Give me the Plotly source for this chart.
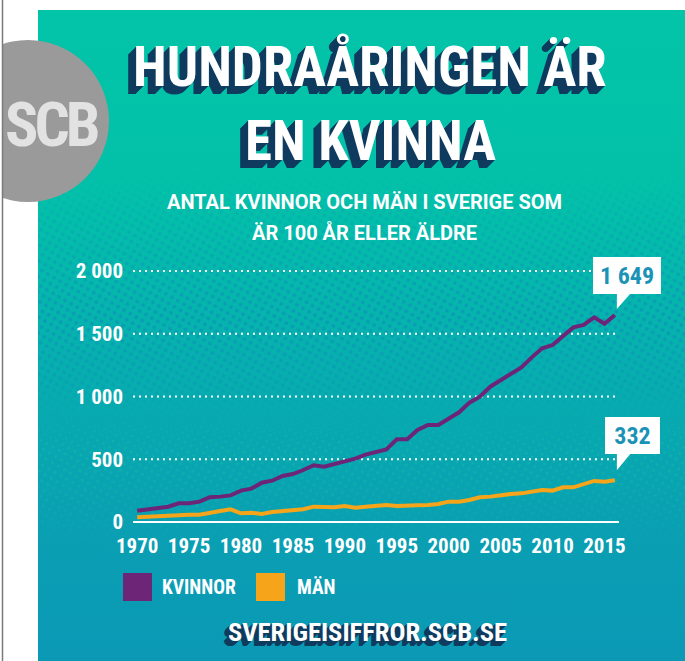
import base64
import plotly.graph_objects as go

# ---------------- data ----------------
years = list(range(1970, 2017))
kvinnor = [90, 101, 111, 122, 149, 149, 162, 197, 202, 212,
           250, 266, 313, 329, 367, 382, 414, 452, 441, 462,
           478, 505, 537, 555, 579, 659, 659, 733, 773, 773,
           826, 874, 951, 999, 1078, 1131, 1185, 1232, 1312, 1384,
           1410, 1482, 1551, 1570, 1631, 1580, 1649]
man = [37, 42, 42, 48, 58, 58, 58, 69, 88, 101,
       69, 74, 64, 80, 88, 93, 101, 122, 117, 117,
       127, 114, 122, 130, 135, 127, 133, 133, 135, 143,
       162, 162, 175, 197, 202, 215, 223, 228, 242, 255,
       250, 276, 276, 303, 327, 321, 332]
x_ticks = [1970, 1975, 1980, 1985, 1990, 1995, 2000, 2005, 2010, 2015]
y_ticks = [0, 500, 1000, 1500, 2000]
y_ticklabels = ["0", "500", "1 000", "1 500", "2 000"]
series_names = ["KVINNOR", "MÄN"]
callout_labels = ["1 649", "332"]

title_lines = ["HUNDRAÅRINGEN ÄR", "EN KVINNA"]
subtitle_lines = ["ANTAL KVINNOR OCH MÄN I SVERIGE SOM", "ÄR 100 ÅR ELLER ÄLDRE"]
url_text = "SVERIGEISIFFROR.SCB.SE"
logo_text = "SCB"

# ---------------- style ----------------
W, H = 685, 661
PURPLE = "#6d2577"
ORANGE = "#f6a41a"
NAVY = "#0f3b5f"
CALLOUT_TXT = "#1a93b6"
COND = "Roboto Condensed, Roboto, sans-serif"
ROBO = "Roboto, sans-serif"
X_MIN, X_GRID_END = 1969.6, 2016.4      # extent of grid / baseline
X_MAX = 2018.42                          # axis range end (room for callout pointers)


def px(x):
    return x / W


def py(y):
    return 1 - y / H


def extrude(n, color=NAVY):
    return ", ".join(f"-{i}px {i}px 0 {color}" for i in range(1, n + 1))


svg = f'''<svg xmlns="http://www.w3.org/2000/svg" width="{W}" height="{H}" viewBox="0 0 {W} {H}">
<defs>
<linearGradient id="g" x1="0" y1="10" x2="0" y2="661" gradientUnits="userSpaceOnUse">
<stop offset="0" stop-color="#02c4a8"/>
<stop offset="0.28" stop-color="#03c1a9"/>
<stop offset="0.5" stop-color="#06b2ae"/>
<stop offset="0.8" stop-color="#0a9fb3"/>
<stop offset="1" stop-color="#0b99b5"/>
</linearGradient>
<pattern id="d1" width="7" height="7" patternUnits="userSpaceOnUse" patternTransform="rotate(30)">
<circle cx="3.5" cy="3.5" r="2" fill="#0b98b6"/>
</pattern>
<linearGradient id="m1g" x1="0" y1="170" x2="0" y2="470" gradientUnits="userSpaceOnUse">
<stop offset="0" stop-color="#fff" stop-opacity="0"/>
<stop offset="0.5" stop-color="#fff" stop-opacity="0.85"/>
<stop offset="1" stop-color="#fff" stop-opacity="0"/>
</linearGradient>
<mask id="m1"><rect x="0" y="0" width="{W}" height="{H}" fill="url(#m1g)"/></mask>
<pattern id="d2" width="7" height="7" patternUnits="userSpaceOnUse" patternTransform="rotate(30)">
<circle cx="3.5" cy="3.5" r="1.5" fill="#12b8ab"/>
</pattern>
<linearGradient id="m2g" x1="0" y1="380" x2="0" y2="560" gradientUnits="userSpaceOnUse">
<stop offset="0" stop-color="#fff" stop-opacity="0"/>
<stop offset="0.4" stop-color="#fff" stop-opacity="0.7"/>
<stop offset="1" stop-color="#fff" stop-opacity="0"/>
</linearGradient>
<mask id="m2"><rect x="0" y="0" width="{W}" height="{H}" fill="url(#m2g)"/></mask>
<clipPath id="c"><rect x="3" y="0" width="{W}" height="{H}"/></clipPath>
</defs>
<rect x="0" y="0" width="{W}" height="{H}" fill="#ffffff"/>
<rect x="38" y="10" width="{W-38}" height="{H-10}" fill="url(#g)"/>
<rect x="38" y="10" width="{W-38}" height="{H-10}" fill="url(#d1)" mask="url(#m1)"/>
<rect x="38" y="10" width="{W-38}" height="{H-10}" fill="url(#d2)" mask="url(#m2)"/>
<circle cx="28" cy="121" r="81" fill="#9a9a9a" clip-path="url(#c)"/>
<line x1="2.5" y1="0" x2="2.5" y2="{H}" stroke="#7a7a7a" stroke-width="1.5"/>
</svg>'''
bg_uri = "data:image/svg+xml;base64," + base64.b64encode(svg.encode("utf-8")).decode("ascii")

fig = go.Figure()
fig.add_trace(go.Scatter(x=years, y=man, mode="lines", name=series_names[1],
                         line=dict(color=ORANGE, width=4), hoverinfo="skip"))
fig.add_trace(go.Scatter(x=years, y=kvinnor, mode="lines", name=series_names[0],
                         line=dict(color=PURPLE, width=4), hoverinfo="skip"))

shapes = []
# grid lines (dotted) and baseline (solid), limited to the grid extent
for v in y_ticks:
    if v == 0:
        ln = dict(color="white", width=2)
    else:
        ln = dict(color="white", width=2, dash="2px,4px")
    shapes.append(dict(type="line", xref="x", yref="y", x0=X_MIN, x1=X_GRID_END, y0=v, y1=v,
                       line=ln, layer="below"))

annotations = []
# logo
annotations.append(dict(text=f'<span style="letter-spacing:-4px">{logo_text}</span>',
                        x=px(51), y=py(125), xref="paper", yref="paper",
                        showarrow=False, xanchor="center", yanchor="middle",
                        font=dict(family=COND, size=62, color="#e2e2e2", weight="bold")))
# title
for txt, yc in zip(title_lines, [66, 141]):
    annotations.append(dict(text=txt, x=px(370), y=py(yc), xref="paper", yref="paper",
                            showarrow=False, xanchor="center", yanchor="middle",
                            font=dict(family=COND, size=55, color="white", weight="bold",
                                      shadow=extrude(8))))
# subtitle
for txt, yc in zip(subtitle_lines, [202, 233]):
    annotations.append(dict(text=txt, x=px(364), y=py(yc), xref="paper", yref="paper",
                            showarrow=False, xanchor="center", yanchor="middle",
                            font=dict(family=ROBO, size=20, color="white", weight="bold")))
# legend
for txt, xl in zip(series_names, [160, 295]):
    annotations.append(dict(text=txt, x=px(xl), y=py(587), xref="paper", yref="paper",
                            showarrow=False, xanchor="left", yanchor="middle",
                            font=dict(family=COND, size=19.5, color="white", weight="bold")))
# url
annotations.append(dict(text=url_text, x=px(367), y=py(631), xref="paper", yref="paper",
                        showarrow=False, xanchor="center", yanchor="middle",
                        font=dict(family=COND, size=26.5, color="white", weight="bold",
                                  shadow=extrude(5))))
# callouts
callouts = [(years[-1], kvinnor[-1], callout_labels[0], 12, 40, 68),
            (years[-1], man[-1], callout_labels[1], 18, 45, 55)]
for xv, yv, txt, xs, ys, wd in callouts:
    annotations.append(dict(text=txt, x=xv, y=yv, xref="x", yref="y", xshift=xs, yshift=ys,
                            showarrow=False, xanchor="center", yanchor="middle",
                            width=wd, height=37, bgcolor="white", borderpad=0, borderwidth=0,
                            font=dict(family=COND, size=24, color=CALLOUT_TXT, weight="bold")))
    tip = 6 if yv > 1000 else 10
    base = ys - 18
    shapes.append(dict(type="path", xref="x", yref="y", xsizemode="pixel", ysizemode="pixel",
                       xanchor=xv, yanchor=yv,
                       path=f"M2,{base} L16,{base} L2,{tip} Z",
                       fillcolor="white", line=dict(width=0), layer="above"))

# legend swatches
for col, xl in zip([PURPLE, ORANGE], [123, 256]):
    shapes.append(dict(type="rect", xref="paper", yref="paper",
                       x0=px(xl), x1=px(xl + 29), y0=py(601), y1=py(573),
                       fillcolor=col, line=dict(width=0), layer="above"))

fig.update_layout(
    width=W, height=H,
    margin=dict(l=0, r=0, t=0, b=0, pad=0, autoexpand=False),
    paper_bgcolor="white",
    plot_bgcolor="rgba(0,0,0,0)",
    showlegend=False,
    images=[dict(source=bg_uri, xref="paper", yref="paper", x=0, y=1, sizex=1, sizey=1,
                 xanchor="left", yanchor="top", sizing="stretch", layer="below")],
    annotations=annotations,
    shapes=shapes,
    xaxis=dict(domain=[px(133), px(640)], range=[X_MIN, X_MAX], automargin=False,
               tickvals=x_ticks, showgrid=False, zeroline=False, showline=False, ticks="",
               tickangle=0, ticklabelstandoff=4,
               tickfont=dict(family=COND, size=21, color="white", weight="bold")),
    yaxis=dict(domain=[py(527), py(266)], range=[-40, 2040], automargin=False,
               tickvals=y_ticks, ticktext=y_ticklabels,
               showgrid=False, zeroline=False,
               showline=False, ticks="", ticklabelstandoff=9,
               tickfont=dict(family=COND, size=21, color="white", weight="bold")),
)

fig.write_html("out.html", config={"displayModeBar": False},
               post_script="document.body.style.margin='0';document.body.style.overflow='hidden';")
